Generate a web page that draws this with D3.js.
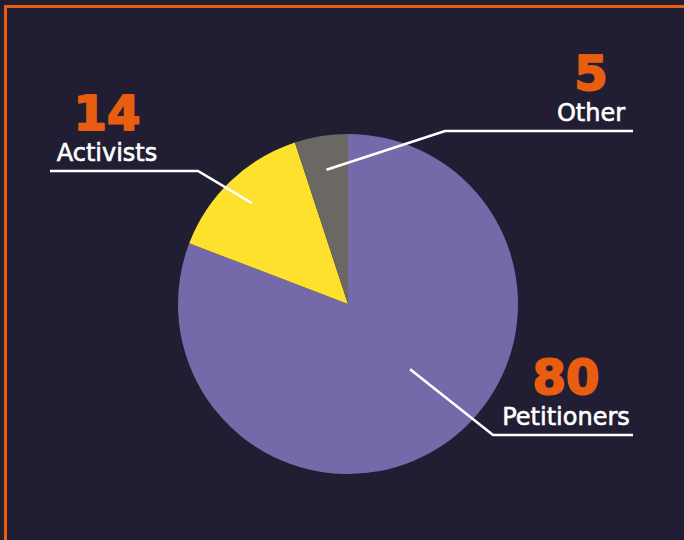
<!DOCTYPE html>
<html>
<head>
<meta charset="utf-8">
<script src="https://cdn.jsdelivr.net/npm/d3@7"></script>
<style>
  html, body { margin: 0; padding: 0; background: #211d33; }
  svg { display: block; }
</style>
</head>
<body>
<div id="chart"></div>
<script>
// data
const groups = ["Petitioners", "Activists", "Other"];
const counts = [80, 14, 5];
const sliceColors = ["#746aa9", "#fde12d", "#6b6864"];

const width = 684, height = 540;
const cx = 348, cy = 304, radius = 170;

// where each callout goes (start radius, angle nudge, elbow, line end)
const callouts = {
  Petitioners: { r: 0.53, nudge: -9, elbow: [493, 435], endX: 633, textX: 566 },
  Activists:   { r: 0.82, nudge: 0,  elbow: [198, 171], endX: 50,  textX: 107 },
  Other:       { r: 0.80, nudge: 0,  elbow: [445, 131], endX: 633, textX: 591 }
};

let svg = d3.select("#chart")
  .append("svg")
    .attr("width", width)
    .attr("height", height)
    .style("background", "#211d33");

// orange frame, right and bottom run off the page
svg.append("rect")
  .attr("x", 5.5)
  .attr("y", 6.5)
  .attr("width", 720)
  .attr("height", 600)
  .attr("fill", "none")
  .attr("stroke", "#e85d0f")
  .attr("stroke-width", 3);

let pie = d3.pie().sort(null).value(d => d.value);
let arcs = pie(groups.map((g, i) => ({ name: g, value: counts[i], color: sliceColors[i] })));

let arc = d3.arc().innerRadius(0).outerRadius(radius);

let g = svg.append("g").attr("transform", "translate(" + cx + "," + cy + ")");

g.selectAll("path")
  .data(arcs)
  .enter().append("path")
    .attr("d", arc)
    .attr("fill", d => d.data.color);

// leader lines + labels
arcs.forEach(d => {
  let c = callouts[d.data.name];
  let a = (d.startAngle + d.endAngle) / 2 + c.nudge * Math.PI / 180;
  let sx = cx + Math.sin(a) * radius * c.r;
  let sy = cy - Math.cos(a) * radius * c.r;
  let pts = [[sx, sy], c.elbow, [c.endX, c.elbow[1]]];
  svg.append("path")
    .attr("d", d3.line()(pts))
    .attr("fill", "none")
    .attr("stroke", "#ffffff")
    .attr("stroke-width", 2.6);

  let labelBase = c.elbow[1] - 10;
  svg.append("text")
    .attr("x", c.textX)
    .attr("y", labelBase)
    .attr("text-anchor", "middle")
    .style("font-family", "'DejaVu Sans', sans-serif")
    .style("font-size", "24px")
    .style("fill", "#ffffff")
    .style("stroke", "#ffffff")
    .style("stroke-width", 0.6)
    .text(d.data.name);

  svg.append("text")
    .attr("x", c.textX)
    .attr("y", labelBase - 31)
    .attr("text-anchor", "middle")
    .style("font-family", "'DejaVu Sans', sans-serif")
    .style("font-weight", "bold")
    .style("font-size", "48px")
    .style("fill", "#e85d0f")
    .style("stroke", "#e85d0f")
    .style("stroke-width", 2)
    .style("stroke-linejoin", "round")
    .text(d.data.value);
});
</script>
</body>
</html>
